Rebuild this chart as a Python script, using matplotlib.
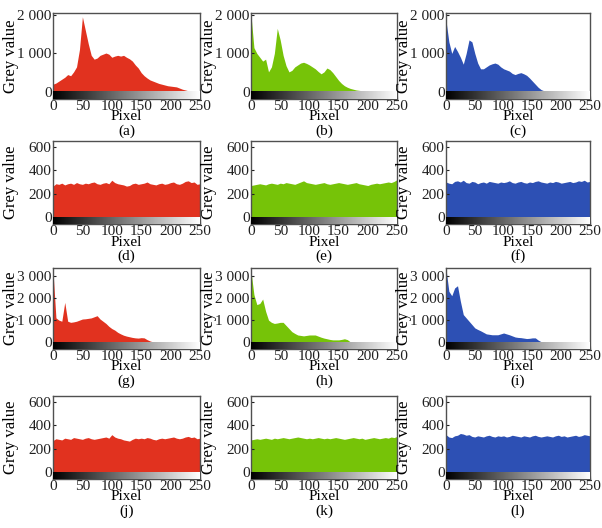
import numpy as np
import matplotlib.pyplot as plt

plt.rcParams['font.family'] = ['Liberation Serif', 'DejaVu Serif']

# grey levels (bins of 5)
pixel = np.arange(0, 251, 5)

hist_a = [200, 230, 280, 330, 380, 450, 420, 520, 650, 1100, 1950, 1600, 1250, 950, 850, 880, 950, 980, 1010, 980,
          900, 930, 950, 930, 950, 900, 860, 800, 700, 620, 500, 420, 360, 310, 280, 250, 220, 200, 180, 160,
          150, 140, 130, 100, 70, 50, 30, 20, 10, 5, 0]
hist_b = [2000, 1150, 1000, 900, 800, 850, 520, 650, 1000, 1650, 1350, 950, 680, 520, 560, 650, 700, 750, 770, 740,
          700, 650, 600, 530, 470, 520, 620, 580, 500, 400, 300, 220, 160, 120, 90, 70, 50, 40, 30, 25,
          20, 15, 12, 10, 8, 6, 5, 4, 3, 2, 0]
hist_c = [1850, 1300, 1000, 1180, 1050, 900, 720, 1000, 1350, 1300, 1000, 750, 600, 600, 650, 700, 730, 750, 720, 650,
          600, 570, 540, 480, 450, 480, 500, 470, 430, 360, 280, 200, 120, 60, 30, 20, 15, 12, 10, 8,
          6, 5, 4, 3, 3, 2, 2, 1, 1, 0, 0]
hist_d = [265, 285, 280, 290, 275, 285, 290, 280, 295, 285, 280, 290, 285, 295, 300, 285, 280, 290, 295, 285,
          315, 295, 285, 280, 275, 265, 270, 285, 290, 280, 285, 290, 300, 285, 280, 275, 285, 290, 280, 285,
          295, 300, 285, 280, 290, 305, 310, 295, 300, 280, 285]
hist_e = [270, 275, 280, 285, 280, 275, 285, 290, 285, 280, 290, 285, 295, 290, 285, 280, 290, 300, 310, 295,
          290, 285, 280, 285, 290, 295, 285, 280, 285, 290, 295, 290, 285, 280, 285, 290, 295, 285, 280, 275,
          270, 280, 285, 290, 285, 290, 295, 300, 295, 305, 320]
hist_f = [300, 290, 285, 305, 310, 300, 315, 295, 290, 305, 300, 285, 295, 300, 290, 305, 300, 295, 290, 300,
          295, 300, 310, 295, 290, 300, 305, 295, 290, 300, 295, 305, 310, 300, 295, 290, 300, 295, 305, 300,
          290, 295, 300, 305, 295, 300, 310, 305, 315, 300, 305]
hist_g = [3200, 1100, 1000, 950, 1800, 950, 900, 920, 950, 1000, 1050, 1060, 1080, 1100, 1150, 1200, 1050, 950, 850, 720,
          620, 550, 450, 380, 320, 280, 250, 220, 200, 190, 210, 200, 120, 60, 20, 5, 0, 0, 0, 0,
          0, 0, 0, 0, 0, 0, 0, 0, 0, 0, 0]
hist_h = [3200, 2150, 1700, 1750, 1950, 1400, 1000, 900, 850, 870, 900, 900, 760, 620, 480, 400, 330, 310, 290, 310,
          330, 330, 330, 280, 230, 190, 160, 130, 110, 110, 110, 130, 160, 120, 20, 0, 0, 0, 0, 0,
          0, 0, 0, 0, 0, 0, 0, 0, 0, 0, 0]
hist_i = [3300, 2300, 2100, 2450, 2550, 1850, 1250, 1100, 950, 800, 650, 580, 520, 450, 380, 360, 340, 340, 340, 380,
          420, 380, 340, 290, 240, 220, 210, 190, 170, 180, 200, 200, 100, 30, 10, 0, 0, 0, 0, 0,
          0, 0, 0, 0, 0, 0, 0, 0, 0, 0, 0]
hist_j = [270, 285, 280, 275, 290, 285, 280, 295, 290, 285, 280, 290, 295, 285, 280, 285, 290, 295, 300, 290,
          320, 300, 290, 285, 275, 270, 265, 280, 290, 285, 290, 285, 295, 290, 280, 275, 285, 290, 285, 290,
          295, 300, 290, 285, 290, 300, 305, 295, 300, 285, 290]
hist_k = [275, 280, 285, 280, 285, 290, 285, 280, 290, 285, 290, 295, 290, 285, 290, 295, 300, 295, 290, 285,
          290, 285, 290, 295, 290, 285, 290, 285, 290, 295, 290, 285, 280, 285, 290, 295, 290, 285, 290, 280,
          285, 290, 295, 290, 285, 290, 295, 290, 300, 295, 305]
hist_l = [320, 300, 295, 310, 315, 330, 325, 315, 320, 305, 300, 310, 305, 300, 310, 315, 305, 300, 310, 305,
          310, 300, 305, 315, 310, 305, 300, 310, 305, 300, 310, 315, 305, 300, 305, 310, 305, 300, 310, 315,
          305, 310, 300, 305, 310, 315, 305, 310, 320, 315, 310]

hists = [hist_a, hist_b, hist_c, hist_d, hist_e, hist_f, hist_g, hist_h, hist_i, hist_j, hist_k, hist_l]
captions = ['(a)', '(b)', '(c)', '(d)', '(e)', '(f)', '(g)', '(h)', '(i)', '(j)', '(k)', '(l)']
colors = ['#e1321f', '#76c308', '#2d50b4']

row_ticks = [[0, 1000, 2000], [0, 200, 400, 600], [0, 1000, 2000, 3000], [0, 200, 400, 600]]
row_labels = [['0', '1 000', '2 000'], ['0', '200', '400', '600'],
              ['0', '1 000', '2 000', '3 000'], ['0', '200', '400', '600']]
row_top_val = [2050, 650, 3350, 650]

W, H = 602, 528
col_left = [53, 251, 446]
col_w = [147, 146, 144]
row_top = [13, 141, 268, 396]
row_bot = [99, 224, 349, 479]

fig = plt.figure(figsize=(W / 100, H / 100), dpi=100)
grad = np.linspace(0, 1, 256)[None, :]

for k in range(12):
    r, c = divmod(k, 3)
    h_px = row_bot[r] - row_top[r]
    ax = fig.add_axes([col_left[c] / W, 1 - row_bot[r] / H, col_w[c] / W, h_px / H])
    top = row_top_val[r]
    g = top * 0.09
    ax.fill_between(pixel, hists[k], 0, color=colors[c], lw=0)
    # grey level bar under the histogram
    ax.imshow(grad, cmap='gray', extent=(0, 250, -g, 0), aspect='auto', zorder=3)
    ax.set_xlim(0, 250)
    ax.set_ylim(-g, top)
    ax.set_xticks([0, 50, 100, 150, 200, 250])
    ax.set_yticks(row_ticks[r])
    ax.set_yticklabels(row_labels[r])
    ax.tick_params(direction='in', length=2, width=0.8, labelsize=11, pad=1, colors='#202020')
    for s in ax.spines.values():
        s.set_color('#505050')
        s.set_linewidth(1.0)
    ax.set_xlabel('Pixel', fontsize=11)
    ax.xaxis.set_label_coords(0.5, -18 / h_px)
    ax.xaxis.label.set_va('center')
    ax.set_ylabel('Grey value', fontsize=12)
    ax.yaxis.set_label_coords(-34 / col_w[c], 0.5)
    ax.annotate(captions[k], (0.5, 0), xycoords='axes fraction', xytext=(0, -32),
                textcoords='offset pixels', ha='center', va='center', fontsize=11)

plt.savefig('out.png', dpi=100)
